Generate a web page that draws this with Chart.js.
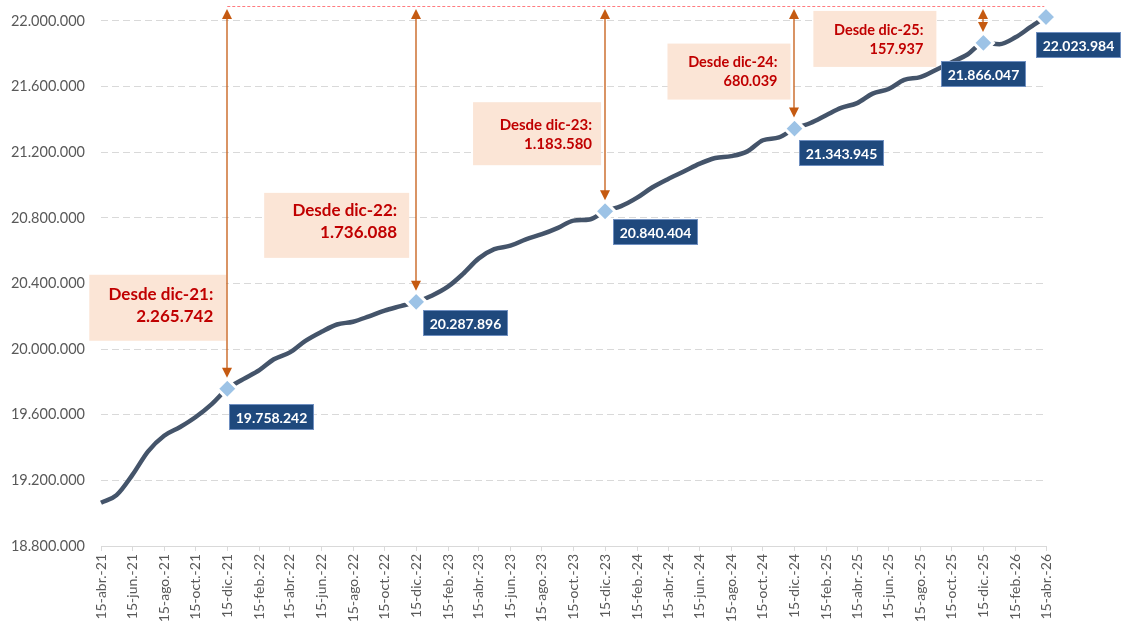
<!DOCTYPE html>
<html><head><meta charset="utf-8">
<script src="https://cdn.jsdelivr.net/npm/chart.js@4.4.1/dist/chart.umd.min.js"></script>
<style>html,body{margin:0;padding:0;background:#fff}#wrap{width:1130px;height:628px;position:relative}</style>
</head><body><div id="wrap"><canvas id="c"></canvas></div>
<script>
// ---- DATA ----
const dates = [
"2021-04-15","2021-05-15","2021-06-15","2021-07-15","2021-08-15","2021-09-15","2021-10-15","2021-11-15","2021-12-15",
"2022-01-15","2022-02-15","2022-03-15","2022-04-15","2022-05-15","2022-06-15","2022-07-15","2022-08-15","2022-09-15","2022-10-15","2022-11-15","2022-12-15",
"2023-01-15","2023-02-15","2023-03-15","2023-04-15","2023-05-15","2023-06-15","2023-07-15","2023-08-15","2023-09-15","2023-10-15","2023-11-15","2023-12-15",
"2024-01-15","2024-02-15","2024-03-15","2024-04-15","2024-05-15","2024-06-15","2024-07-15","2024-08-15","2024-09-15","2024-10-15","2024-11-15","2024-12-15",
"2025-01-15","2025-02-15","2025-03-15","2025-04-15","2025-05-15","2025-06-15","2025-07-15","2025-08-15","2025-09-15","2025-10-15","2025-11-15","2025-12-15",
"2026-01-15","2026-02-15","2026-03-15","2026-04-15"];
const values = [
19064000,19110000,19235000,19377000,19472000,19525000,19586000,19665000,19758242,
19817000,19872000,19938000,19980000,20050000,20105000,20150000,20167000,20200000,20235000,20262000,20287896,
20327000,20382000,20457000,20553000,20609000,20630000,20669000,20700000,20739000,20783000,20790000,20840404,
20871000,20923000,20985000,21037000,21082000,21130000,21165000,21176000,21205000,21273000,21290000,21343945,
21378000,21427000,21470000,21499000,21557000,21585000,21641000,21658000,21703000,21748000,21797000,21866047,
21858000,21900000,21960000,22023984];
const tickDates = ["2021-04-15","2021-06-15","2021-08-15","2021-10-15","2021-12-15",
"2022-02-15","2022-04-15","2022-06-15","2022-08-15","2022-10-15","2022-12-15",
"2023-02-15","2023-04-15","2023-06-15","2023-08-15","2023-10-15","2023-12-15",
"2024-02-15","2024-04-15","2024-06-15","2024-08-15","2024-10-15","2024-12-15",
"2025-02-15","2025-04-15","2025-06-15","2025-08-15","2025-10-15","2025-12-15",
"2026-02-15","2026-04-15"];
const tickLabels = ["15-abr.-21","15-jun.-21","15-ago.-21","15-oct.-21","15-dic.-21",
"15-feb.-22","15-abr.-22","15-jun.-22","15-ago.-22","15-oct.-22","15-dic.-22",
"15-feb.-23","15-abr.-23","15-jun.-23","15-ago.-23","15-oct.-23","15-dic.-23",
"15-feb.-24","15-abr.-24","15-jun.-24","15-ago.-24","15-oct.-24","15-dic.-24",
"15-feb.-25","15-abr.-25","15-jun.-25","15-ago.-25","15-oct.-25","15-dic.-25",
"15-feb.-26","15-abr.-26"];
const yTicks = [18800000,19200000,19600000,20000000,20400000,20800000,21200000,21600000,22000000];
const yMin = 18800000, yMax = 22091000;
const markedDates = ["2021-12-15","2022-12-15","2023-12-15","2024-12-15","2025-12-15","2026-04-15"];
const sinceLabels = ["Desde dic-21:","Desde dic-22:","Desde dic-23:","Desde dic-24:","Desde dic-25:"];

// ---- helpers ----
const ORIGIN = Date.UTC(2021,3,15);
function dayOf(s){const [y,m,d]=s.split('-').map(Number);return (Date.UTC(y,m-1,d)-ORIGIN)/86400000;}
function fmt(n){return Math.round(n).toString().replace(/\B(?=(\d{3})+(?!\d))/g,'.');}
const xs = dates.map(dayOf);
const pts = xs.map((x,i)=>({x:x,y:values[i]}));
const markIdx = markedDates.map(d=>dates.indexOf(d));
const markSet = new Set(markIdx);
const lastIdx = values.length-1;

// layout of decorations (offsets relative to the marked point pixel)
const labelLayout = [{dx:2,dy:15},{dx:7,dy:8},{dx:8,dy:8},{dx:5,dy:11},{dx:-42,dy:18},{dx:-10,dy:15}];
const annLayout = [
 {dx:-1,dy:-114,w:137,h:66,size:17,pad:13,l1:19.5,ls:22},
 {dx:-7,dy:-109,w:145,h:65,size:17,pad:12,l1:18,ls:22},
 {dx:-4,dy:-109,w:128,h:63,size:15,pad:9,l1:23,ls:19},
 {dx:-4,dy:-85,w:123,h:56,size:14.5,pad:13,l1:19,ls:18.5},
 {dx:-47,dy:-32,w:123,h:56,size:14.5,pad:13,l1:19,ls:19}
];

const overlay = {
  id:'overlay',
  beforeDatasetsDraw(chart){
    const {ctx, scales:{x,y}} = chart;
    ctx.save();
    annLayout.forEach((a,i)=>{
      const idx = markIdx[i];
      const px = x.getPixelForValue(xs[idx]), py = y.getPixelForValue(values[idx]);
      const right = px + a.dx, top = py + a.dy;
      ctx.fillStyle = '#FBE5D6';
      ctx.fillRect(right - a.w, top, a.w, a.h);
      ctx.fillStyle = '#C00000';
      ctx.font = 'bold ' + a.size + 'px Lato';
      ctx.textAlign = 'right'; ctx.textBaseline = 'middle';
      ctx.fillText(sinceLabels[i], right - a.pad, top + a.l1);
      ctx.fillText(fmt(values[lastIdx] - values[idx]), right - a.pad, top + a.l1 + a.ls);
    });
    const x0 = x.getPixelForValue(xs[markIdx[0]]), x1 = x.getPixelForValue(xs[lastIdx]);
    const yt = y.getPixelForValue(yMax);
    ctx.strokeStyle = '#FF7C80'; ctx.lineWidth = 1; ctx.setLineDash([3,2]);
    ctx.beginPath(); ctx.moveTo(x0, yt+0.5); ctx.lineTo(x1, yt+0.5); ctx.stroke();
    ctx.setLineDash([]);
    ctx.restore();
  },
  afterDatasetsDraw(chart){
    const {ctx, scales:{x,y}} = chart;
    ctx.save();
    const yt = y.getPixelForValue(yMax);
    for (let i=0;i<5;i++){
      const idx = markIdx[i];
      const px = Math.round(x.getPixelForValue(xs[idx])), py = y.getPixelForValue(values[idx]);
      const topTip = yt + 3, botTip = py - 11;
      ctx.strokeStyle = '#C55A11'; ctx.fillStyle = '#C55A11'; ctx.lineWidth = 1.3;
      ctx.beginPath(); ctx.moveTo(px, topTip + 8); ctx.lineTo(px, botTip - 8); ctx.stroke();
      ctx.beginPath(); ctx.moveTo(px, topTip); ctx.lineTo(px-5, topTip+10); ctx.lineTo(px+5, topTip+10); ctx.closePath(); ctx.fill();
      ctx.beginPath(); ctx.moveTo(px, botTip); ctx.lineTo(px-5, botTip-10); ctx.lineTo(px+5, botTip-10); ctx.closePath(); ctx.fill();
    }
    markIdx.forEach((idx,i)=>{
      const L = labelLayout[i];
      const px = x.getPixelForValue(xs[idx]), py = y.getPixelForValue(values[idx]);
      const left = Math.round(px + L.dx), top = Math.round(py + L.dy), w = 85, h = 26;
      ctx.fillStyle = '#1F497D';
      ctx.fillRect(left, top, w, h);
      ctx.strokeStyle = '#6F8FC0'; ctx.lineWidth = 1;
      ctx.strokeRect(left+0.5, top+0.5, w-1, h-1);
      ctx.fillStyle = '#FFFFFF';
      ctx.font = 'bold 14px Lato';
      ctx.textAlign = 'center'; ctx.textBaseline = 'middle';
      ctx.fillText(fmt(values[idx]), left + w/2, top + h/2 + 1);
    });
    ctx.restore();
  }
};

new Chart(document.getElementById('c'), {
  type:'line',
  data:{ datasets:[{
    data: pts,
    borderColor:'#44546A', borderWidth:4.5,
    cubicInterpolationMode:'monotone',
    pointStyle:'rectRot',
    pointRadius: c => markSet.has(c.dataIndex) ? 10 : 0,
    pointBackgroundColor:'#9DC3E6', pointBorderColor:'#FFFFFF', pointBorderWidth:3,
    clip:false
  }]},
  options:{
    responsive:true, maintainAspectRatio:false, animation:false, events:[],
    layout:{autoPadding:false, padding:{left:0,right:84,top:6,bottom:0}},
    plugins:{legend:{display:false}, tooltip:{enabled:false}},
    scales:{
      x:{ type:'linear', min:0, max:dayOf(tickDates[tickDates.length-1]),
        afterBuildTicks: s => { s.ticks = tickDates.map(d=>({value:dayOf(d)})); },
        afterFit: s => { s.height = 82; s.paddingLeft = 0; s.paddingRight = 0; },
        ticks:{ autoSkip:false, minRotation:90, maxRotation:90, padding:3, color:'#595959',
          font:{family:'Lato', size:14},
          callback:(v,i)=>tickLabels[i] },
        grid:{ display:true, drawOnChartArea:false, drawTicks:true, tickLength:5, color:'#D9D9D9' },
        border:{ display:true, color:'#D9D9D9', width:1 }
      },
      y:{ min:yMin, max:yMax,
        afterBuildTicks: s => { s.ticks = yTicks.map(v=>({value:v})); },
        afterFit: s => { s.width = 101; s.paddingTop = 0; s.paddingBottom = 0; },
        ticks:{ padding:16, color:'#595959', font:{family:'Lato', size:14.5}, callback:v=>fmt(v) },
        grid:{ color:'#D9D9D9', drawTicks:false, lineWidth:1 },
        border:{ display:false, dash:[7,4] }
      }
    }
  },
  plugins:[overlay]
});
</script>
</body></html>
